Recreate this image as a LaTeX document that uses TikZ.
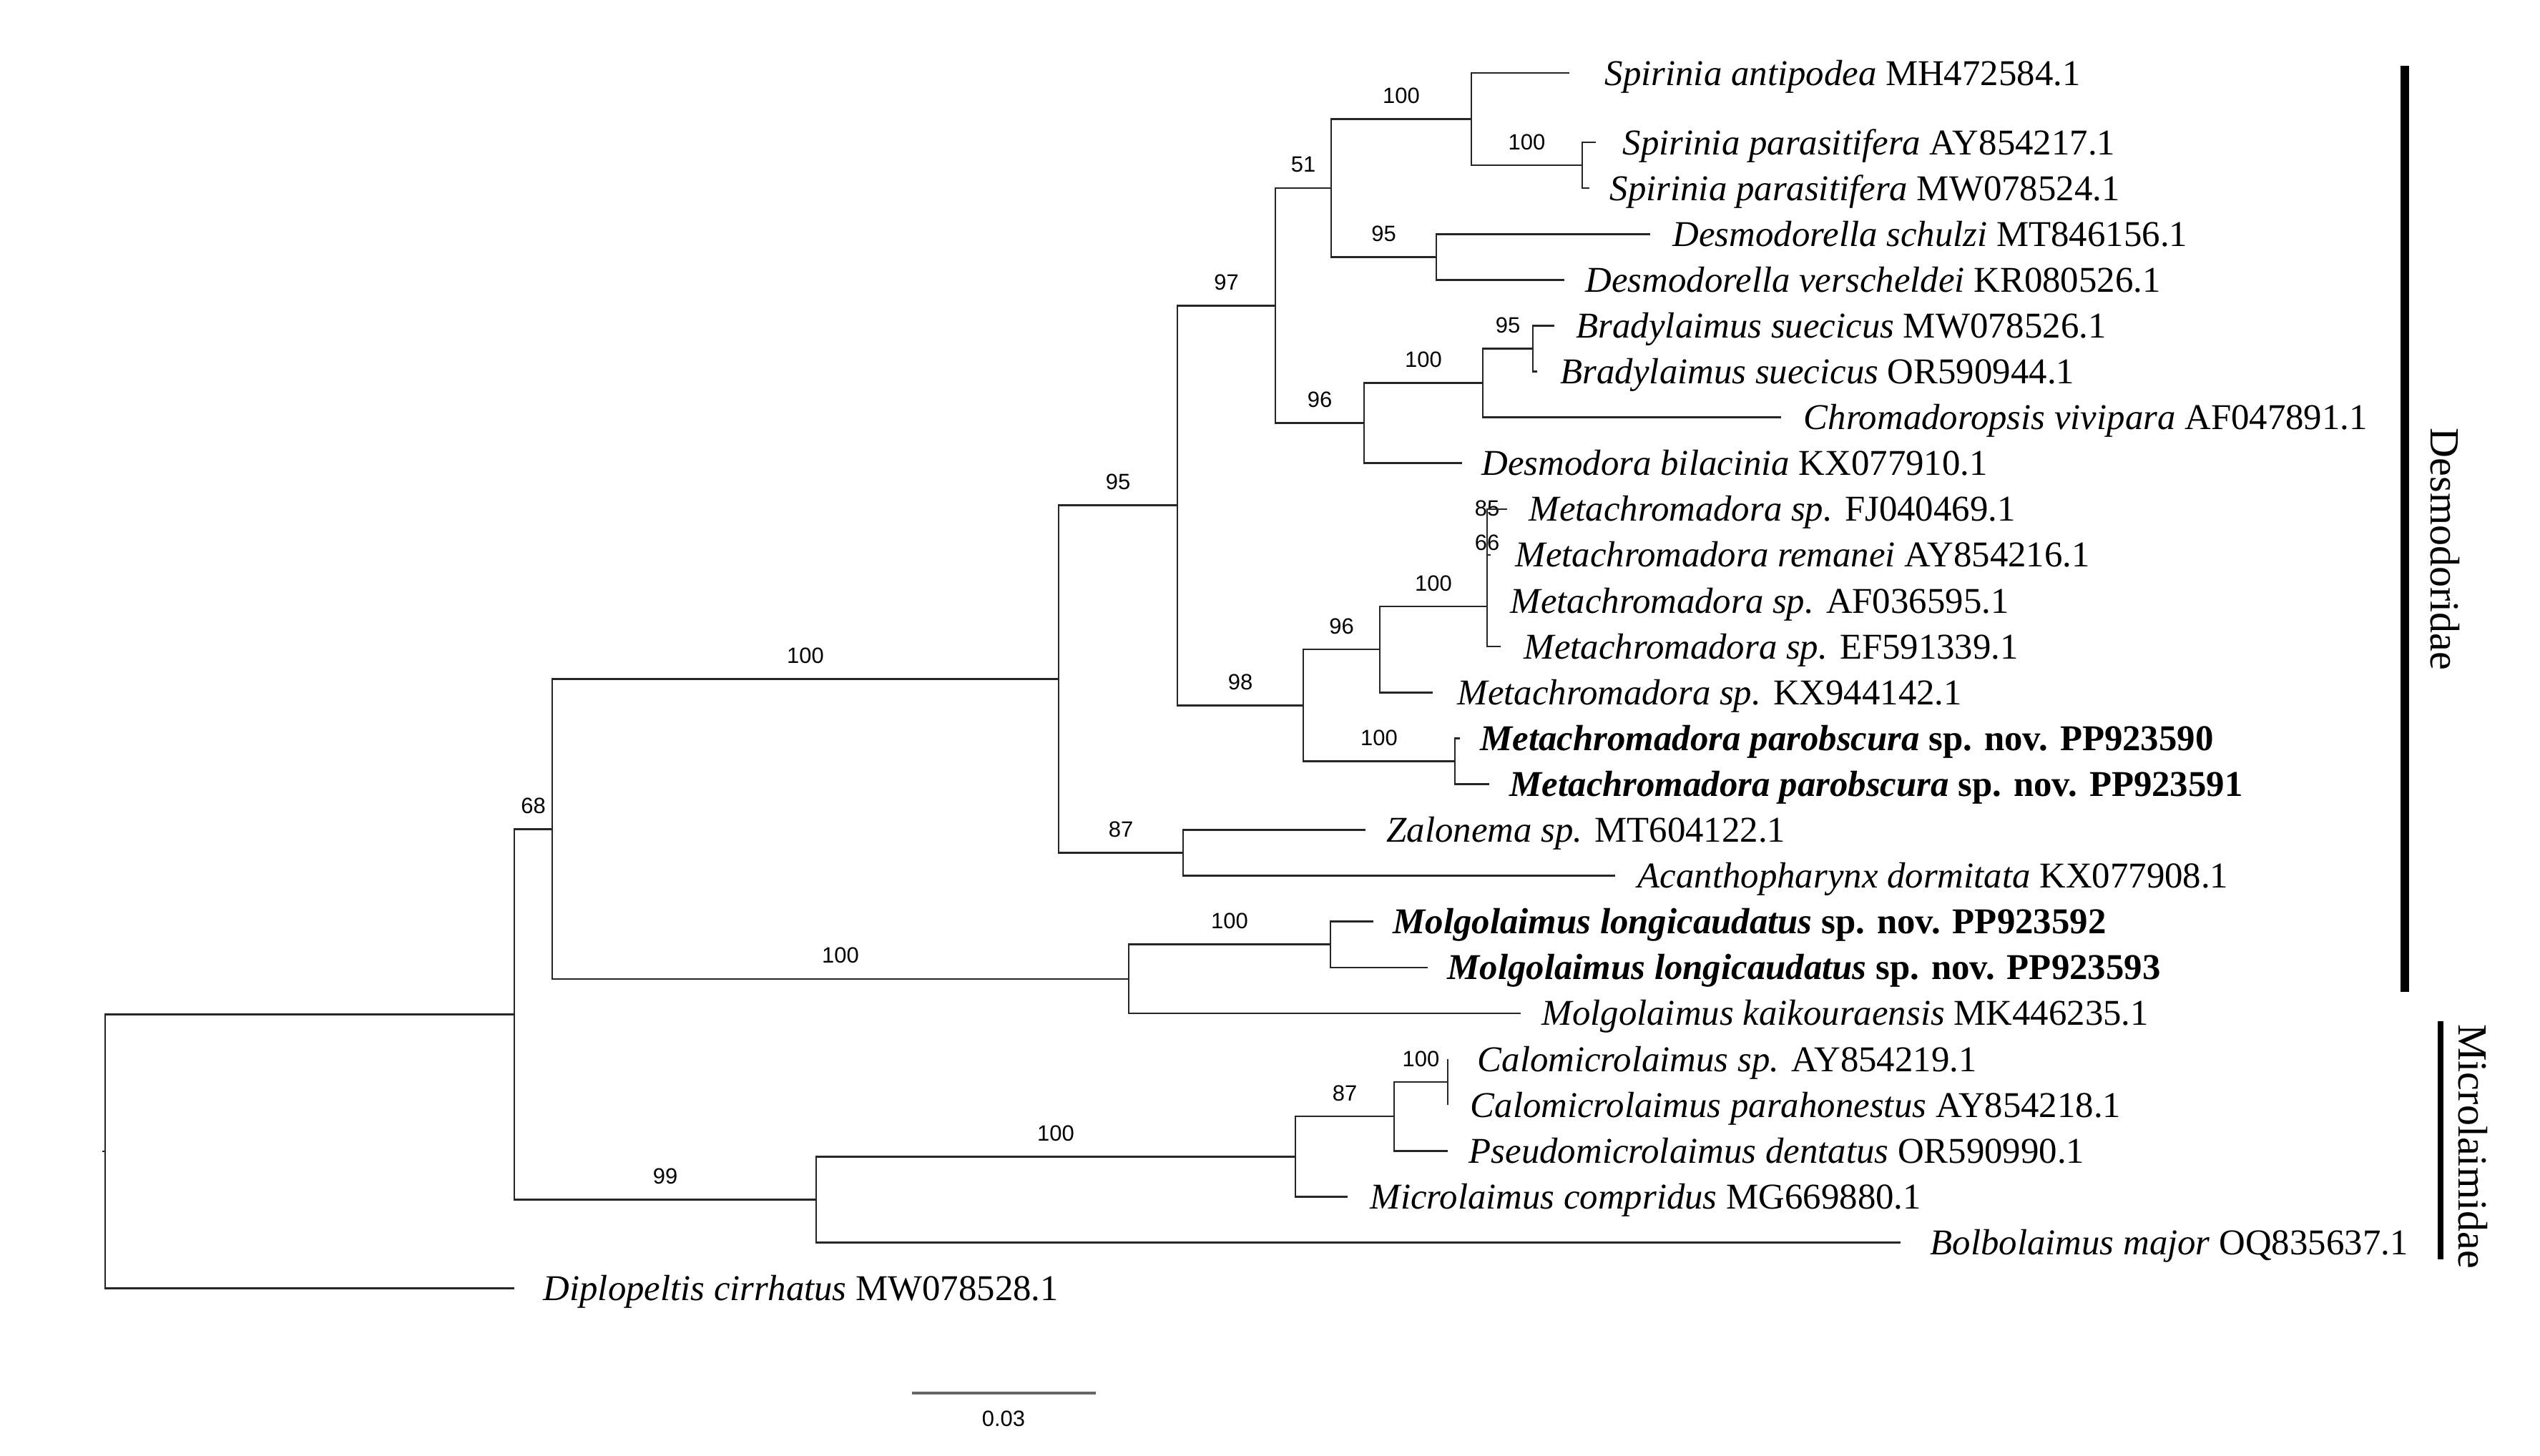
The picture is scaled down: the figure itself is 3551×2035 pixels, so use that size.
\documentclass[tikz,border=0pt]{standalone}
\usepackage{fontspec}
\setmainfont{Liberation Serif}
\setsansfont{Liberation Sans}
\begin{document}
\begin{tikzpicture}[x=0.01cm, y=-0.01cm,
  br/.style={line width=0.75pt, draw=black!85},
  tip/.style={anchor=base west, inner sep=0pt, font=\fontsize{14.45}{16}\selectfont},
  sup/.style={anchor=base, inner sep=0pt, yshift=0.22cm, pos=0.75, font=\sffamily\fontsize{8.8}{10}\selectfont},
  clade/.style={rotate=-90, inner sep=0pt, font=\fontsize{16.5}{18}\selectfont},
]
\fill[white] (0,0) rectangle (3551,2035);
\useasboundingbox (0,0) rectangle (3551,2035);

% ---- internal nodes ----
\coordinate (root) at (147,1609.9);
\coordinate (A) at (719,1418.25);
\coordinate (B) at (772,1159.2);
\coordinate (C) at (1141,1677.3);
\coordinate (D) at (1480,949.6);
\coordinate (E) at (1578,1368.8);
\coordinate (F) at (1654,1192.55);
\coordinate (G) at (1646,706.7);
\coordinate (H) at (1822,986.2);
\coordinate (P) at (1783,427.25);
\coordinate (Q) at (1861,262.9);
\coordinate (R) at (2057,166.5);
\coordinate (S) at (2212,231.05);
\coordinate (T) at (2008,359.25);
\coordinate (U) at (1907,591.6);
\coordinate (V) at (2073,535.5);
\coordinate (W) at (2143,487.45);
\coordinate (I) at (1929,908.1);
\coordinate (J) at (2079,848);
\coordinate (n2) at (2079,791.9);
\coordinate (n1) at (2079,743.85);
\coordinate (Y) at (2034,1064.35);
\coordinate (L) at (1860,1320.75);
\coordinate (N) at (1811,1617.2);
\coordinate (O) at (1949,1561.1);
\coordinate (P2) at (2024,1513.05);

% ---- tip ends ----
\coordinate (e1) at (2194,102);
\coordinate (e2) at (2231,199);
\coordinate (e3) at (2222,263.1);
\coordinate (e4) at (2307,327.2);
\coordinate (e5) at (2187,391.3);
\coordinate (e6) at (2173,455.4);
\coordinate (e7) at (2149,519.5);
\coordinate (e8) at (2490,583.6);
\coordinate (e9) at (2044,647.7);
\coordinate (e10) at (2107,711.8);
\coordinate (e11) at (2084,775.9);
\coordinate (e12) at (2079,840);
\coordinate (e13) at (2098,904.1);
\coordinate (e14) at (2003,968.2);
\coordinate (e15) at (2041,1032.3);
\coordinate (e16) at (2082,1096.4);
\coordinate (e17) at (1909,1160.5);
\coordinate (e18) at (2258,1224.6);
\coordinate (e19) at (1920,1288.7);
\coordinate (e20) at (1996,1352.8);
\coordinate (e21) at (2126,1416.9);
\coordinate (e22) at (2024,1481);
\coordinate (e23) at (2024,1545.1);
\coordinate (e24) at (2024,1609.2);
\coordinate (e25) at (1884,1673.3);
\coordinate (e26) at (2657,1737.4);
\coordinate (e27) at (719,1801.5);

% ---- branches ----
\draw[br] (root) -- ++(-4,0);
\draw[br] (root) |- (A);
\draw[br] (root) |- (e27);
\draw[br] (A) |- node[sup]{68} (B);
\draw[br] (A) |- node[sup]{99} (C);
\draw[br] (B) |- node[sup]{100} (D);
\draw[br] (B) |- node[sup]{100} (E);
\draw[br] (D) |- node[sup]{95} (G);
\draw[br] (D) |- node[sup]{87} (F);
\draw[br] (F) |- (e17);
\draw[br] (F) |- (e18);
\draw[br] (G) |- node[sup]{97} (P);
\draw[br] (G) |- node[sup]{98} (H);
\draw[br] (P) |- node[sup]{51} (Q);
\draw[br] (P) |- node[sup]{96} (U);
\draw[br] (Q) |- node[sup]{100} (R);
\draw[br] (Q) |- node[sup]{95} (T);
\draw[br] (R) |- (e1);
\draw[br] (R) |- node[sup]{100} (S);
\draw[br] (S) |- (e2);
\draw[br] (S) |- (e3);
\draw[br] (T) |- (e4);
\draw[br] (T) |- (e5);
\draw[br] (U) |- node[sup]{100} (V);
\draw[br] (U) |- (e9);
\draw[br] (V) |- node[sup]{95} (W);
\draw[br] (V) |- (e8);
\draw[br] (W) |- (e6);
\draw[br] (W) |- (e7);
\draw[br] (H) |- node[sup]{96} (I);
\draw[br] (H) |- node[sup]{100} (Y);
\draw[br] (I) |- node[sup]{100} (J);
\draw[br] (I) |- (e14);
\draw[br] (J) |- node[sup]{66} (n2);
\draw[br] (J) |- (e13);
\draw[br] (n2) |- node[sup]{85} (n1);
\draw[br] (n2) |- (e12);
\draw[br] (n1) |- (e10);
\draw[br] (n1) |- (e11);
\draw[br] (Y) |- (e15);
\draw[br] (Y) |- (e16);
\draw[br] (E) |- node[sup]{100} (L);
\draw[br] (E) |- (e21);
\draw[br] (L) |- (e19);
\draw[br] (L) |- (e20);
\draw[br] (C) |- node[sup]{100} (N);
\draw[br] (C) |- (e26);
\draw[br] (N) |- node[sup]{87} (O);
\draw[br] (N) |- (e25);
\draw[br] (O) |- node[sup]{100} (P2);
\draw[br] (O) |- (e24);
\draw[br] (P2) |- (e22);
\draw[br] (P2) |- (e23);

% ---- tip labels ----
\node[tip] (l1) at (2243,119) {\textit{Spirinia antipodea} MH472584.1};
\node[tip] (l2) at (2268,216) {\textit{Spirinia parasitifera} AY854217.1};
\node[tip] (l3) at (2250,280.1) {\textit{Spirinia parasitifera} MW078524.1};
\node[tip] (l4) at (2338,344.2) {\textit{Desmodorella schulzi} MT846156.1};
\node[tip] (l5) at (2216,408.3) {\textit{Desmodorella verscheldei} KR080526.1};
\node[tip] (l6) at (2203,472.4) {\textit{Bradylaimus suecicus} MW078526.1};
\node[tip] (l7) at (2181,536.5) {\textit{Bradylaimus suecicus} OR590944.1};
\node[tip] (l8) at (2521,600.6) {\textit{Chromadoropsis vivipara} AF047891.1};
\node[tip] (l9) at (2071,664.7) {\textit{Desmodora bilacinia} KX077910.1};
\node[tip] (l10) at (2137,728.8) {\textit{Metachromadora sp.} FJ040469.1};
\node[tip] (l11) at (2118,792.9) {\textit{Metachromadora remanei} AY854216.1};
\node[tip] (l12) at (2111,857) {\textit{Metachromadora sp.} AF036595.1};
\node[tip] (l13) at (2130,921.1) {\textit{Metachromadora sp.} EF591339.1};
\node[tip] (l14) at (2037,985.2) {\textit{Metachromadora sp.} KX944142.1};
\node[tip] (l15) at (2069,1049.3) {\textbf{\textit{Metachromadora parobscura} sp. nov. PP923590}};
\node[tip] (l16) at (2110,1113.4) {\textbf{\textit{Metachromadora parobscura} sp. nov. PP923591}};
\node[tip] (l17) at (1938,1177.5) {\textit{Zalonema sp.} MT604122.1};
\node[tip] (l18) at (2289,1241.6) {\textit{Acanthopharynx dormitata} KX077908.1};
\node[tip] (l19) at (1947,1305.7) {\textbf{\textit{Molgolaimus longicaudatus} sp. nov. PP923592}};
\node[tip] (l20) at (2023,1369.8) {\textbf{\textit{Molgolaimus longicaudatus} sp. nov. PP923593}};
\node[tip] (l21) at (2155,1433.9) {\textit{Molgolaimus kaikouraensis} MK446235.1};
\node[tip] (l22) at (2065,1498) {\textit{Calomicrolaimus sp.} AY854219.1};
\node[tip] (l23) at (2055,1562.1) {\textit{Calomicrolaimus parahonestus} AY854218.1};
\node[tip] (l24) at (2053,1626.2) {\textit{Pseudomicrolaimus dentatus} OR590990.1};
\node[tip] (l25) at (1915,1690.3) {\textit{Microlaimus compridus} MG669880.1};
\node[tip] (l26) at (2698,1754.4) {\textit{Bolbolaimus major} OQ835637.1};
\node[tip] (l27) at (759,1818.5) {\textit{Diplopeltis cirrhatus} MW078528.1};

% ---- clade bars and labels ----
\coordinate (db1) at (3362,92);
\coordinate (db2) at (3362,1387);
\draw[line width=3.2pt] (db1) -- (db2);
\coordinate (mb1) at (3412,1428);
\coordinate (mb2) at (3412,1761);
\draw[line width=2.3pt] (mb1) -- (mb2);
\node[clade] (desm) at (3418,768) {Desmodoridae};
\node[clade] (micro) at (3457,1603) {Microlaimidae};

% ---- scale bar ----
\coordinate (sb1) at (1275,1948);
\coordinate (sb2) at (1532,1948);
\draw[line width=1.1pt, draw=black!60] (sb1) -- (sb2);
\node[anchor=base, inner sep=0pt, font=\sffamily\fontsize{8.8}{10}\selectfont] (sbl) at (1403,1994) {0.03};
\end{tikzpicture}
\end{document}
